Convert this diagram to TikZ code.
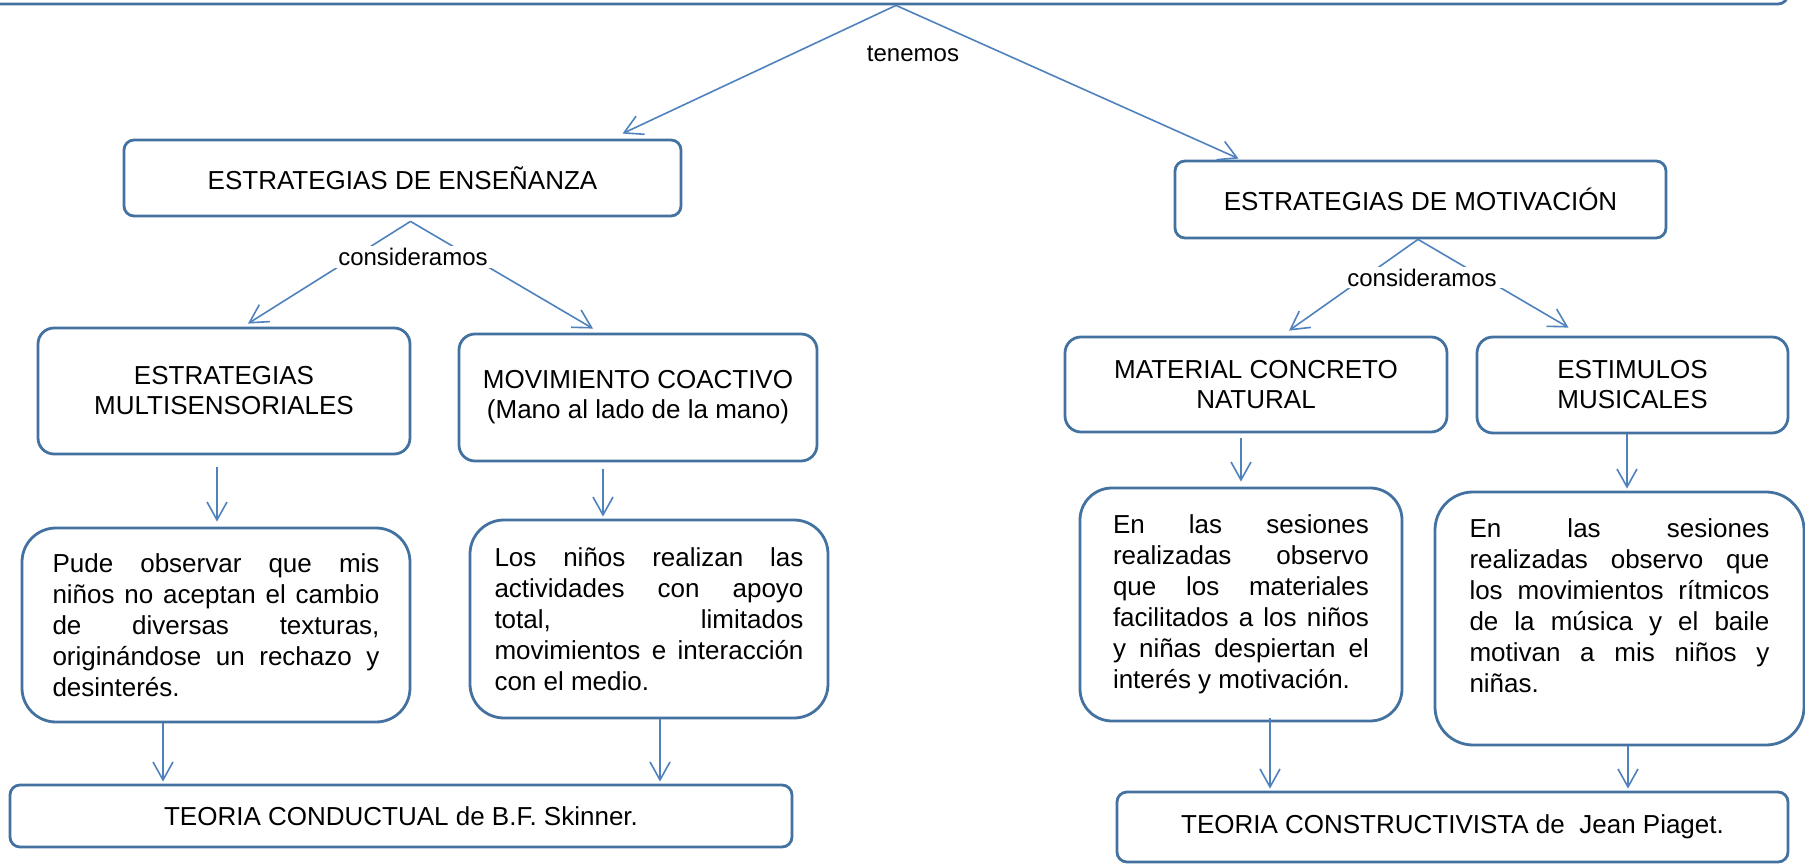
\documentclass[tikz,border=0pt]{standalone}
\usepackage{fontspec}
\setmainfont{Liberation Sans}
\usetikzlibrary{arrows.meta,positioning,calc}
\definecolor{boxblue}{RGB}{68,114,160}
\definecolor{lineblue}{RGB}{79,129,189}
\tolerance=10000
\hbadness=10000
\tikzset{
  >={Straight Barb[length=9pt,width=10pt]},
  block/.style={draw=boxblue,line width=1.4pt,rounded corners=5pt,align=center,inner sep=0pt,font=\fontsize{13}{15}\selectfont},
  textblock/.style={block,rounded corners=17pt,align=justify,font=\fontsize{13}{15.5}\selectfont},
  arrow/.style={->,draw=lineblue,line width=0.8pt},
  link/.style={fill=white,inner xsep=3pt,inner ysep=1pt,font=\fontsize{12}{14}\selectfont},
}

\begin{document}
\begin{tikzpicture}[x=0.5pt,y=-0.5pt]
  \useasboundingbox (0,0) rectangle (1805,865);
  \clip (0,0) rectangle (1805,865);
  \node[block,minimum width=900pt,minimum height=32pt] (top) at (888,-28) {};
  \node[block,minimum width=278.5pt,minimum height=38pt] (ens) at (402.5,178) {ESTRATEGIAS DE ENSEÑANZA};
  \node[block,minimum width=245.5pt,minimum height=38.5pt] (mot) at (1420.5,199.5) {ESTRATEGIAS DE MOTIVACIÓN};
  \node[block,rounded corners=8pt,minimum width=186pt,minimum height=63pt] (multi) at (224,391) {ESTRATEGIAS\\MULTISENSORIALES};
  \node[block,rounded corners=8pt,minimum width=179pt,minimum height=63.5pt] (mov) at (638,397.5) {MOVIMIENTO COACTIVO\\(Mano al lado de la mano)};
  \node[block,rounded corners=8pt,minimum width=191pt,minimum height=47.5pt] (mat) at (1256,384.5) {MATERIAL CONCRETO\\NATURAL};
  \node[block,rounded corners=8pt,minimum width=155.5pt,minimum height=48pt] (estim) at (1632.5,385) {ESTIMULOS\\MUSICALES};
  \node[textblock,text width=163.5pt,minimum width=194pt,minimum height=97pt] (pude) at (216,625)
    {Pude observar que mis\linebreak niños no aceptan el cambio\linebreak de diversas texturas,\linebreak originándose un rechazo y\linebreak desinterés.};
  \node[textblock,text width=154.5pt,minimum width=179pt,minimum height=99pt] (los) at (649,619)
    {Los niños realizan las\linebreak actividades con apoyo\linebreak total, limitados\linebreak movimientos e interacción\linebreak con el medio.};
  \node[textblock,rounded corners=16pt,text width=128pt,minimum width=161pt,minimum height=116.5pt] (ses1) at (1241,604.5)
    {En las sesiones\linebreak realizadas observo\linebreak que los materiales\linebreak facilitados a los niños\linebreak y niñas despiertan el\linebreak interés y motivación.};
  \node[textblock,rounded corners=19pt,text width=150pt,minimum width=184.5pt,minimum height=126.5pt] (ses2) at (1619.5,618.5)
    {En las sesiones\linebreak realizadas observo que\linebreak los movimientos rítmicos\linebreak de la música y el baile\linebreak motivan a mis niños y\linebreak niñas.\rule[-13pt]{0pt}{0pt}};
  \node[block,minimum width=391pt,minimum height=31pt] (cond) at (401,816) {TEORIA CONDUCTUAL de B.F. Skinner.};
  \node[block,minimum width=335.5pt,minimum height=35pt] (cons) at (1452.5,827) {TEORIA CONSTRUCTIVISTA de~ Jean Piaget.};

  \draw[arrow] ([xshift=4pt]top.south) -- ([xshift=110pt,yshift=2.5pt]ens.north);
  \draw[arrow] ([xshift=4pt]top.south) -- ([xshift=-91pt,yshift=0.5pt]mot.north);
  \draw[arrow] ([xshift=4pt,yshift=-2pt]ens.south) -- ([xshift=12pt,yshift=1.5pt]multi.north);
  \draw[arrow] ([xshift=4pt,yshift=-2pt]ens.south) -- ([xshift=-22.5pt,yshift=2pt]mov.north);
  \draw[arrow] ([xshift=-1.25pt]mot.south) -- ([xshift=16.5pt,yshift=2.5pt]mat.north);
  \draw[arrow] ([xshift=-1.25pt]mot.south) -- ([xshift=-32pt,yshift=4pt]estim.north);
  \draw[arrow] ([xshift=-3.5pt,yshift=-6pt]multi.south) -- ([xshift=0.5pt,yshift=2.5pt]pude.north);
  \draw[arrow] ([xshift=-17.5pt,yshift=-3.5pt]mov.south) -- ([xshift=-23pt,yshift=1pt]los.north);
  \draw[arrow] ([xshift=-26.5pt]pude.south) -- ([xshift=-119pt,yshift=1pt]cond.north);
  \draw[arrow] ([xshift=5.5pt]los.south) -- ([xshift=129.5pt,yshift=1pt]cond.north);
  \draw[arrow] ([xshift=-7.5pt,yshift=-2.5pt]mat.south) -- ([yshift=2.5pt]ses1.north);
  \draw[arrow] ([xshift=-2.75pt]estim.south) -- ([xshift=3.75pt,yshift=1pt]ses2.north);
  \draw[arrow] ([xshift=14.5pt,yshift=2pt]ses1.south) -- ([xshift=-91.25pt,yshift=1pt]cons.north);
  \draw[arrow] ([xshift=4.25pt]ses2.south) -- ([xshift=87.75pt,yshift=1pt]cons.north);

  \node[link] (ten) at (913,54) {tenemos};
  \node[link] (con1) at (413,257) {consideramos};
  \node[link] (con2) at (1422,277.5) {consideramos};
\end{tikzpicture}
\end{document}
